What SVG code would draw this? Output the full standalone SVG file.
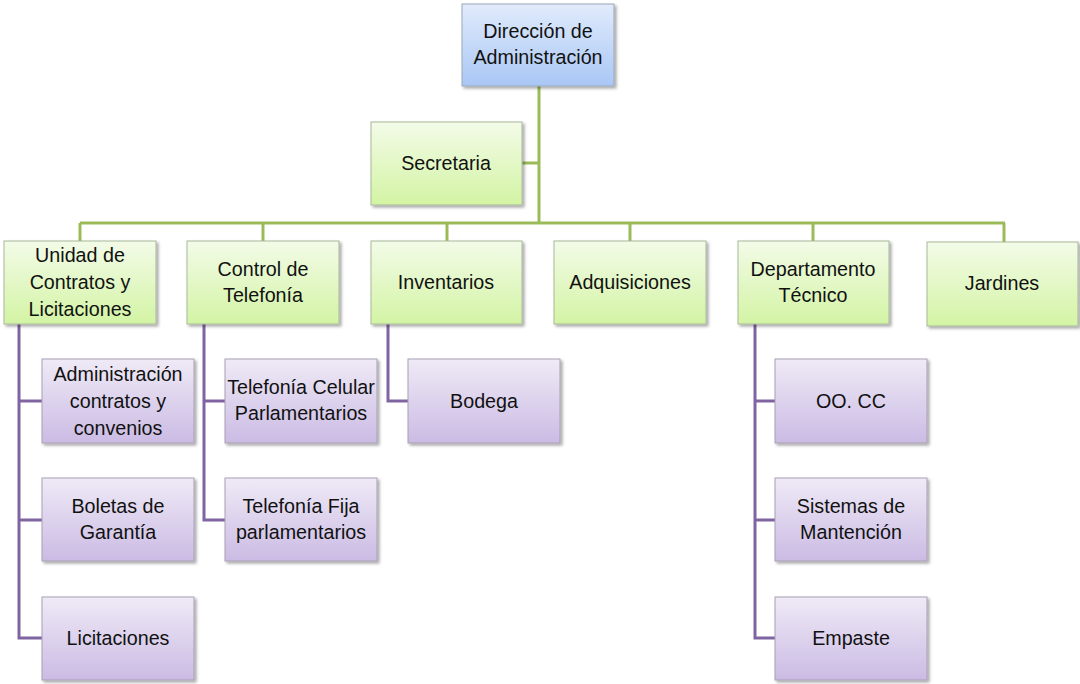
<svg xmlns="http://www.w3.org/2000/svg" width="1080" height="684" viewBox="0 0 1080 684">
<defs>
<linearGradient id="gb" x1="0" y1="0" x2="0" y2="1"><stop offset="0" stop-color="#e1ebfc"/><stop offset="1" stop-color="#a9c7f5"/></linearGradient>
<linearGradient id="gg" x1="0" y1="0" x2="0" y2="1"><stop offset="0" stop-color="#f3fbe8"/><stop offset="1" stop-color="#d3f4a4"/></linearGradient>
<linearGradient id="gp" x1="0" y1="0" x2="0" y2="1"><stop offset="0" stop-color="#efeaf6"/><stop offset="1" stop-color="#cbbbe4"/></linearGradient>
<filter id="sh" x="-10%" y="-10%" width="130%" height="130%"><feDropShadow dx="2" dy="2" stdDeviation="1.5" flood-color="#000" flood-opacity="0.35"/></filter>
</defs>
<style>
.b{fill:url(#gb);stroke:#9aa7b8;stroke-width:1;filter:url(#sh)}
.g{fill:url(#gg);stroke:#a7b89a;stroke-width:1;filter:url(#sh)}
.p{fill:url(#gp);stroke:#a89fb4;stroke-width:1;filter:url(#sh)}
.t{font-family:"Liberation Sans",Arial,sans-serif;font-size:19.7px;fill:#111;text-anchor:middle}
.cg{stroke:#9bbb59;stroke-width:3;fill:none}
.cp{stroke:#8064a2;stroke-width:3;fill:none}
</style>
<g id="connectors">
<path class="cg" d="M539 86V223M522 163H539M80 223H1005M80 223V241M263 223V241M447 223V241M630 223V241M813 223V241M1004 223V242"/>
<path class="cp" d="M19 324V638H42M19 401H42M19 520H42M204 324V520H225M204 401H225M388 324V401H408M755 324V638H775M755 401H775M755 520H775"/>
</g>
<g id="n-direccion"><rect class="b" x="462" y="4" width="152" height="82"/><text class="t" x="538" y="38">Dirección de</text><text class="t" x="538" y="64">Administración</text></g>
<g id="n-secretaria"><rect class="g" x="371" y="122" width="151" height="83"/><text class="t" x="446" y="170">Secretaria</text></g>
<g id="n-unidad"><rect class="g" x="4" y="241" width="152" height="83"/><text class="t" x="80" y="262">Unidad de</text><text class="t" x="80" y="289">Contratos y</text><text class="t" x="80" y="316">Licitaciones</text></g>
<g id="n-telefonia"><rect class="g" x="187" y="241" width="152" height="83"/><text class="t" x="263" y="276">Control de</text><text class="t" x="263" y="302">Telefonía</text></g>
<g id="n-inventarios"><rect class="g" x="371" y="241" width="151" height="83"/><text class="t" x="446" y="289">Inventarios</text></g>
<g id="n-adquisiciones"><rect class="g" x="554" y="241" width="152" height="83"/><text class="t" x="630" y="289">Adquisiciones</text></g>
<g id="n-departamento"><rect class="g" x="738" y="241" width="151" height="83"/><text class="t" x="813" y="276">Departamento</text><text class="t" x="813" y="302">Técnico</text></g>
<g id="n-jardines"><rect class="g" x="927" y="242" width="151" height="84"/><text class="t" x="1002" y="290">Jardines</text></g>
<g id="n-admcontratos"><rect class="p" x="42" y="359" width="152" height="84"/><text class="t" x="118" y="381">Administración</text><text class="t" x="118" y="408">contratos y</text><text class="t" x="118" y="435">convenios</text></g>
<g id="n-boletas"><rect class="p" x="42" y="478" width="152" height="83"/><text class="t" x="118" y="513">Boletas de</text><text class="t" x="118" y="539">Garantía</text></g>
<g id="n-licitaciones"><rect class="p" x="42" y="597" width="152" height="83"/><text class="t" x="118" y="645">Licitaciones</text></g>
<g id="n-celular"><rect class="p" x="225" y="359" width="152" height="84"/><text class="t" x="301" y="394">Telefonía Celular</text><text class="t" x="301" y="420">Parlamentarios</text></g>
<g id="n-fija"><rect class="p" x="225" y="478" width="152" height="83"/><text class="t" x="301" y="513">Telefonía Fija</text><text class="t" x="301" y="539">parlamentarios</text></g>
<g id="n-bodega"><rect class="p" x="408" y="359" width="152" height="84"/><text class="t" x="484" y="408">Bodega</text></g>
<g id="n-oocc"><rect class="p" x="775" y="359" width="152" height="84"/><text class="t" x="851" y="408">OO. CC</text></g>
<g id="n-sistemas"><rect class="p" x="775" y="478" width="152" height="83"/><text class="t" x="851" y="513">Sistemas de</text><text class="t" x="851" y="539">Mantención</text></g>
<g id="n-empaste"><rect class="p" x="775" y="597" width="152" height="83"/><text class="t" x="851" y="645">Empaste</text></g>
</svg>
